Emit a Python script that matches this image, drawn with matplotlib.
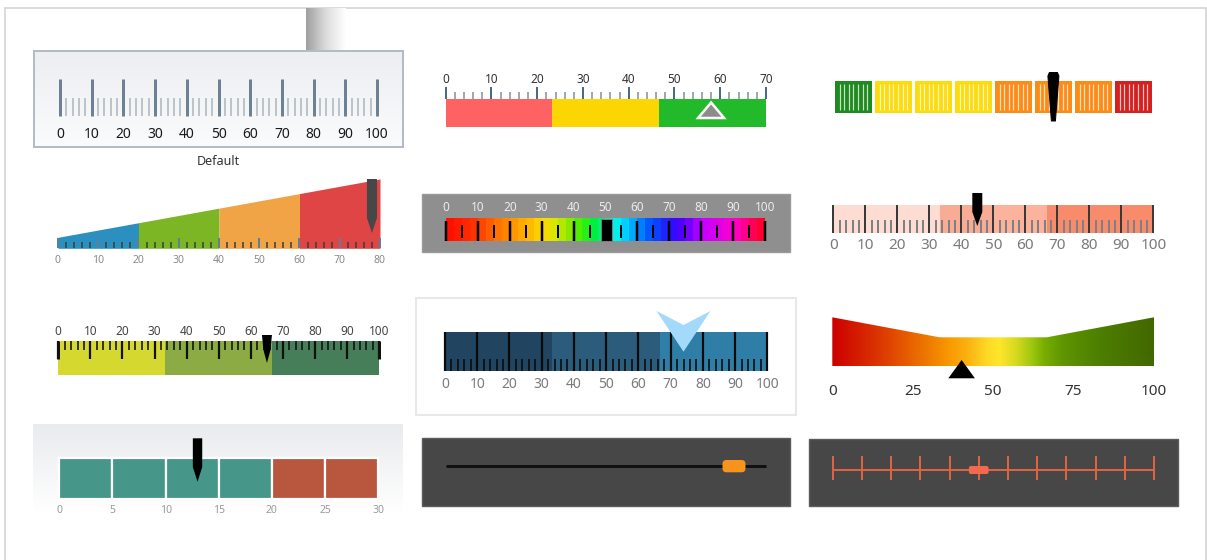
import numpy as np
import matplotlib
matplotlib.use("Agg")
import matplotlib.pyplot as plt
from matplotlib.patches import Rectangle, Polygon, FancyBboxPatch
from matplotlib.colors import LinearSegmentedColormap

plt.rcParams['font.family'] = ['Noto Sans', 'DejaVu Sans']

W, H = 1207, 560

# ---- data ----
# 1 default ruler
default_major = list(range(0, 101, 10))
default_minor = [v for v in range(0, 101, 2) if v % 10]
# 2 wedge
wedge_edges = [0, 20, 40, 60, 80]
wedge_colors = ['#2b90c0', '#7cb625', '#f0a445', '#e04545']
wedge_major = list(range(0, 81, 10))
wedge_minor = [v for v in range(0, 81, 2) if v % 10]
wedge_value = 78
# 3 red/yellow/green bar
ryg_edges = [0, 70 / 3, 140 / 3, 70]
ryg_colors = ['#ff6262', '#fcd602', '#22b92b']
ryg_major = list(range(0, 71, 10))
ryg_minor = [v for v in range(0, 71, 2) if v % 10]
ryg_value = 58
# 4 segmented
seg_starts = [0, 10, 20, 30, 40, 50, 60, 70]
seg_colors = ['#1f8a1f', '#fcdc0e', '#fcdc0e', '#fcdc0e',
              '#fd8c17', '#fd8c17', '#fd8c17', '#d52020']
seg_value = 54.6
# 5 rainbow
rainbow_stops = [0, 8.6, 13.8, 19, 24, 29.5, 33.6, 38, 42, 46, 54.5, 61, 65, 73, 82, 92, 97, 100]
rainbow_colors = ['#ff1000', '#ff3800', '#ff6800', '#ff9000', '#ffb000', '#ffd800', '#d8e800',
                  '#90e800', '#40f000', '#00f03a', '#00f0ff', '#0088ff', '#0050ff', '#3a00ff',
                  '#c800ff', '#ff00c8', '#ff0060', '#ff0030']
rainbow_major = list(range(0, 101, 10))
rainbow_minor = list(range(5, 100, 10))
rainbow_value = 50.3
# 6 salmon
salmon_edges = [0, 100 / 3, 50, 200 / 3, 100]
salmon_colors = ['#fddcd3', '#f8ab95', '#fbb39e', '#f98b6d']
salmon_major = list(range(0, 101, 10))
salmon_minor = [v for v in range(0, 101, 2) if v % 10]
salmon_value = 45
# 7 yellow-green
yg_edges = [0, 100 / 3, 200 / 3, 100]
yg_colors = ['#d4d82f', '#8cab45', '#467e59']
yg_major = list(range(0, 101, 10))
yg_minor = [v for v in range(0, 101, 2) if v % 10]
yg_value = 65
# 8 blocks
block_starts = [0, 5, 10, 15, 20, 25]
block_colors = ['#469689', '#469689', '#469689', '#469689', '#b9573e', '#b9573e']
block_labels = list(range(0, 31, 5))
block_value = 13
# 9 dark blue
blue_edges = [0, 100 / 3, 200 / 3, 100]
blue_colors = ['#214560', '#2c5c7b', '#2e7ea8']
blue_major = list(range(0, 101, 10))
blue_minor = [v for v in range(0, 101, 2) if v % 10]
blue_value = 74
# 10 slider
slider_value = 90
# 11 gradient wedge
grad_stops = [0, 15.6, 31, 36.6, 41.8, 48, 52, 57, 62, 66, 72, 83, 100]
grad_colors = ['#cc0000', '#dd3a00', '#f08000', '#f89a00', '#fbb010', '#fed825', '#fee62a',
               '#d8da20', '#a0c810', '#78ae00', '#5e9500', '#4d7f00', '#426800']
grad_labels = [0, 25, 50, 75, 100]
grad_value = 40.2
# 12 dark ruler
dark_ticks = list(range(0, 111, 10))
dark_value = 50

fig = plt.figure(figsize=(W / 100, H / 100), dpi=100)
bg = fig.add_axes([0, 0, 1, 1])
bg.set_xlim(0, W)
bg.set_ylim(H, 0)
bg.set_autoscale_on(False)
bg.axis('off')


def px(v):
    return v * 0.72


def vgrad(ax, x0, x1, y0, y1, c0, c1):
    cm = LinearSegmentedColormap.from_list('g', [c0, c1])
    ax.imshow(np.linspace(0, 1, 64).reshape(-1, 1), extent=(x0, x1, y1, y0),
              cmap=cm, aspect='auto', interpolation='bilinear', zorder=0)


def gauge_axes(px0, px1, vmin, vmax):
    k = (px1 - px0) / (vmax - vmin)
    ax = fig.add_axes([0, 0, 1, 1])
    ax.set_xlim(vmin - px0 / k, vmin + (W - px0) / k)
    ax.set_ylim(H, 0)
    ax.set_autoscale_on(False)
    ax.axis('off')
    ax.patch.set_alpha(0)
    return ax, k


def pointer(ax, k, v, shape, **kw):
    pts = [(v + dx / k, y) for dx, y in shape]
    ax.add_patch(Polygon(pts, closed=True, **kw))


def pill(ax, k, v, wpx, y0, y1, r, color):
    ax.add_patch(FancyBboxPatch((v - wpx / 2 / k, y0), wpx / k, y1 - y0,
                                boxstyle='round,pad=0,rounding_size=%f' % (r / k),
                                mutation_aspect=k, facecolor=color, edgecolor='none', zorder=5))


def ranges(ax, edges, colors, y0, y1, **kw):
    for a, b, c in zip(edges[:-1], edges[1:], colors):
        ax.bar(a, y1 - y0, width=b - a, bottom=y0, align='edge', color=c, linewidth=0, **kw)


# outer frame and the shadow at the top
bg.add_patch(Rectangle((5, 8), 1201, 570, facecolor='white', edgecolor='#d4d4d4', lw=1.2, zorder=-1))
shade = LinearSegmentedColormap.from_list('s', ['#a0a0a0', '#dcdcdc', '#ffffff'])
bg.imshow(np.linspace(0, 1, 64).reshape(1, -1), extent=(305.5, 345, 51, 8.6),
          cmap=shade, aspect='auto', interpolation='bilinear', zorder=0)

# ---- 1 default ----
vgrad(bg, 34, 403, 51, 147, '#eceef1', '#fafbfc')
bg.add_patch(Rectangle((34, 51), 369, 96, facecolor='none', edgecolor='#b3bbc5', lw=px(2), zorder=1))
ax, k = gauge_axes(60, 377, 0, 100)
ax.vlines(default_minor, 97.7, 116.3, color='#bcc3ca', lw=px(2))
ax.vlines(default_major, 79.3, 116.3, color='#6c8196', lw=px(3))
for v in default_major:
    ax.text(v, 138.3, str(v), ha='center', va='baseline', fontsize=10, color='#1a1a1a')
ax.text(50, 165, 'Default', ha='center', va='baseline', fontsize=9, color='#333333')

# ---- 2 wedge ----
ax, k = gauge_axes(58, 380, 0, 80)
base, top0, top1 = 248.3, 237.3, 179
for a, b, c in zip(wedge_edges[:-1], wedge_edges[1:], wedge_colors):
    ta = top0 + (top1 - top0) * a / 80
    tb = top0 + (top1 - top0) * b / 80
    ax.fill_between([a, b], [base, base], [ta, tb], color=c, linewidth=0)
ax.vlines(wedge_minor, 241.5, base, color='#3a3a3a', lw=px(1.5))
ax.vlines(wedge_major, 237.5, base, color='#5e8095', lw=px(2))
for v in wedge_major:
    ax.text(v, 263.3, str(v), ha='center', va='baseline', fontsize=7.5, color='#8a8a8a')
pointer(ax, k, wedge_value, [(-5, 179), (5, 179), (5, 218), (0, 233), (-5, 218)],
        facecolor='#474747', edgecolor='none', zorder=5)

# ---- 3 red / yellow / green ----
ax, k = gauge_axes(445.7, 766, 0, 70)
ranges(ax, ryg_edges, ryg_colors, 99, 127)
ax.vlines(ryg_minor, 91.5, 98.5, color='#a0a8b0', lw=px(2))
ax.vlines(ryg_major, 87, 98.5, color='#4d6a85', lw=px(2))
for v in ryg_major:
    ax.text(v, 82.7, str(v), ha='center', va='baseline', fontsize=8.5, color='#333333')
pointer(ax, k, ryg_value, [(-13, 118), (0, 102.5), (13, 118)],
        facecolor='#8c8c8c', edgecolor='white', lw=px(2.5), joinstyle='miter', zorder=5)

# ---- 4 segmented ----
ax, k = gauge_axes(835, 1155, 0, 80)
gap = 3.3 / k
for s, c in zip(seg_starts, seg_colors):
    ax.bar(s, 32, width=10 - gap, bottom=80.7, align='edge', color=c, linewidth=0)
    ax.vlines(s + (10 - gap) * np.arange(1, 8) / 8, 83.5, 110, color='white', alpha=0.75, lw=px(1.2))
pointer(ax, k, seg_value, [(-5.5, 76), (-4, 72.5), (4, 72.5), (5.5, 76), (2, 121), (-2, 121)],
        facecolor='black', edgecolor='black', lw=px(1), joinstyle='round', zorder=5)

# ---- 5 rainbow ----
bg.add_patch(Rectangle((421.7, 194), 368.3, 57.7, facecolor='#8f8f8f', edgecolor='#9a9a9a', lw=1, zorder=1))
ax, k = gauge_axes(446, 765, 0, 100)
rb = LinearSegmentedColormap.from_list('rb', list(zip(np.array(rainbow_stops) / 100, rainbow_colors)))
ax.imshow(np.linspace(0, 1, 40).reshape(1, -1), extent=(0, 100, 240.7, 218.3),
          cmap=rb, aspect='auto', interpolation='nearest')
ax.vlines(rainbow_minor, 225, 237.7, color='black', lw=px(2))
ax.vlines(rainbow_major, 221, 241, color='black', lw=px(2.5))
ax.bar(rainbow_value, 22.4, width=10.7 / k, bottom=218.6, color='black',
       edgecolor='#7a7a7a', lw=px(1))
for v in rainbow_major:
    ax.text(v, 211, str(v), ha='center', va='baseline', fontsize=8.5, color='#ececec')

# ---- 6 salmon ----
ax, k = gauge_axes(833.3, 1153.3, 0, 100)
ranges(ax, salmon_edges, salmon_colors, 205, 232.7)
ax.vlines(salmon_minor, 220, 233, color='#808080', lw=px(2))
ax.vlines(salmon_major, 205, 233, color='#3a3a3a', lw=px(2))
for v in salmon_major:
    ax.text(v, 249.3, str(v), ha='center', va='baseline', fontsize=11, color='#7a7a7a')
pointer(ax, k, salmon_value, [(-5, 193), (5, 193), (5, 212), (0, 226), (-5, 212)],
        facecolor='black', edgecolor='none', zorder=5)

# ---- 7 yellow / green ----
ax, k = gauge_axes(58.3, 379.3, 0, 100)
ranges(ax, yg_edges, yg_colors, 341, 375)
ax.vlines(yg_minor, 341, 350, color='#111111', lw=px(1.6))
ax.vlines(yg_major, 341, 359.3, color='#111111', lw=px(2.2))
ax.vlines([yg_major[0], yg_major[-1]], 341, 359.3, color='#111111', lw=px(3))
for v in yg_major:
    ax.text(v, 335, str(v), ha='center', va='baseline', fontsize=8.5, color='#444444')
pointer(ax, k, yg_value, [(-5, 335), (5, 335), (3.5, 350), (0, 363), (-3.5, 350)],
        facecolor='black', edgecolor='none', zorder=5)

# ---- 8 blocks ----
vgrad(bg, 33.3, 403.3, 424, 513, '#e9ebee', '#ffffff')
ax, k = gauge_axes(59.3, 378.3, 0, 30)
for s, c in zip(block_starts, block_colors):
    ax.bar(s, 41, width=5, bottom=458.3, align='edge', color=c, edgecolor='white', lw=px(2.2))
for v in block_labels:
    ax.text(v, 513.3, str(v), ha='center', va='baseline', fontsize=7.5, color='#9a9a9a')
pointer(ax, k, block_value, [(-4.7, 438.3), (4.7, 438.3), (4.7, 467), (0, 481.7), (-4.7, 467)],
        facecolor='black', edgecolor='none', zorder=5)

# ---- 9 dark blue ----
bg.add_patch(Rectangle((416, 298.3), 380, 116.7, facecolor='white', edgecolor='#e8e8e8', lw=1.5, zorder=1))
ax, k = gauge_axes(445, 767.3, 0, 100)
ranges(ax, blue_edges, blue_colors, 331.7, 370.7)
ax.vlines(blue_minor, 359.3, 370.7, color='#0a0a0a', lw=px(1.6))
ax.vlines(blue_major, 331.7, 370.7, color='#0a0a0a', lw=px(2.2))
for v in blue_major:
    ax.text(v, 388.3, str(v), ha='center', va='baseline', fontsize=10, color='#7b7b7b')
pointer(ax, k, blue_value, [(-27, 311), (0, 351.7), (27, 311), (0, 325)],
        facecolor='#a3d9fa', edgecolor='none', zorder=5)

# ---- 10 slider ----
bg.add_patch(Rectangle((421.7, 438.3), 368.3, 67.7, facecolor='#474747', edgecolor='#5c5c5c', lw=1, zorder=1))
ax, k = gauge_axes(446, 766, 0, 100)
ax.hlines(465.7, 0, 100, color='#111111', lw=px(3))
pill(ax, k, slider_value, 23, 460, 472.3, 4, '#f7941d')

# ---- 11 gradient wedge ----
ax, k = gauge_axes(832.3, 1154, 0, 100)
gc = LinearSegmentedColormap.from_list('gc', list(zip(np.array(grad_stops) / 100, grad_colors)))
im = ax.imshow(np.linspace(0, 1, 256).reshape(1, -1), extent=(0, 100, 366, 317),
               cmap=gc, aspect='auto', interpolation='bilinear')
shape = Polygon([(0, 366), (0, 317.3), (100 / 3, 337.3), (200 / 3, 337.3), (100, 317.3), (100, 366)],
                closed=True, facecolor='none', edgecolor='none')
ax.add_patch(shape)
im.set_clip_path(shape)
for v in grad_labels:
    ax.text(v, 395, str(v), ha='center', va='baseline', fontsize=11, color='#333333')
pointer(ax, k, grad_value, [(-13.3, 378.3), (0, 360), (13.3, 378.3)],
        facecolor='black', edgecolor='none', zorder=5)

# ---- 12 dark ruler ----
bg.add_patch(Rectangle((809.3, 439.3), 368.4, 66.7, facecolor='#474747', edgecolor='#5c5c5c', lw=1, zorder=1))
ax, k = gauge_axes(832.7, 1154, 0, 110)
ax.hlines(470, 0, 110, color='#dc6442', lw=px(2))
ax.vlines(dark_ticks, 456, 480, color='#dc6442', lw=px(2))
pill(ax, k, dark_value, 19.7, 466, 474, 2, '#f26a4b')

fig.savefig('out.png', dpi=100)
